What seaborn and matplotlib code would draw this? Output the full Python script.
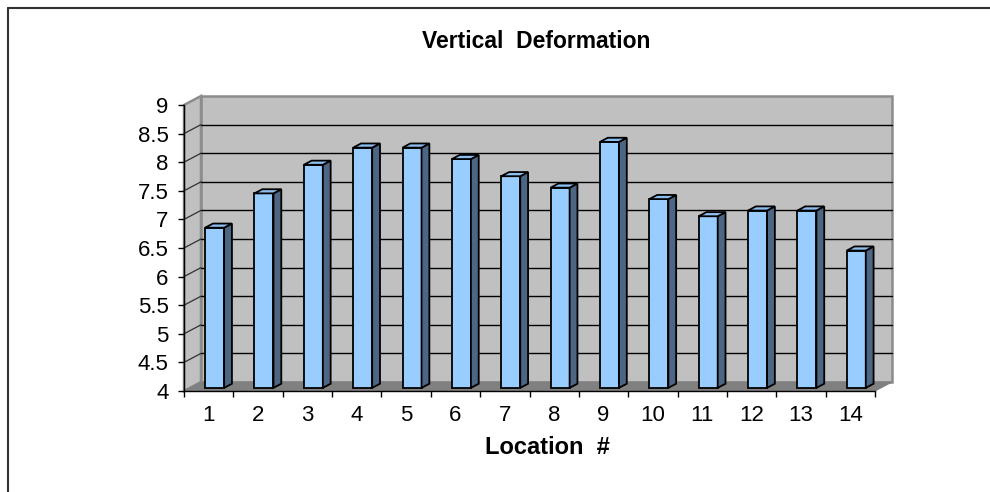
import numpy as np
import matplotlib
matplotlib.use("Agg")
import matplotlib.pyplot as plt
from matplotlib.patches import Polygon, Rectangle
from matplotlib.lines import Line2D
from matplotlib.ticker import FuncFormatter, FixedLocator
import seaborn as sns

# data
locations = ["1", "2", "3", "4", "5", "6", "7", "8", "9", "10", "11", "12", "13", "14"]
deformation = [6.8, 7.4, 7.9, 8.2, 8.2, 8.0, 7.7, 7.5, 8.3, 7.3, 7.0, 7.1, 7.1, 6.4]
y_ticks = [4, 4.5, 5, 5.5, 6, 6.5, 7, 7.5, 8, 8.5, 9]

sns.set_style("white")
plt.rcParams['font.family'] = ['Liberation Sans', 'DejaVu Sans']

W, H = 990, 492
fig = plt.figure(figsize=(W / 100, H / 100), dpi=100)
ax = fig.add_axes([184 / W, 101 / H, 691 / W, 286 / H])
ax.set_facecolor('none')

ymin, ymax = y_ticks[0], y_ticks[-1]
n = len(locations)
xl, xr = -0.5, n - 0.5

# depth of the fake 3d box (in data units)
dx, dy = 0.344, 0.157
f_front, f_depth = 0.35, 0.46

sns.barplot(x=locations, y=deformation, width=0.385, color='#99CCFF',
            saturation=1, edgecolor='black', linewidth=1.3, ax=ax, zorder=3)

# lift bars onto the floor and add side / top faces
for p in list(ax.patches):
    h = p.get_height()
    p.set_x(p.get_x() + f_front * dx)
    p.set_y(ymin + f_front * dy)
    p.set_height(h - ymin)
    x0 = p.get_x()
    x1 = x0 + p.get_width()
    y0 = p.get_y()
    top = y0 + p.get_height()
    bx, by = f_depth * dx, f_depth * dy
    ax.add_patch(Polygon([(x1, y0), (x1 + bx, y0 + by), (x1 + bx, top + by), (x1, top)],
                         closed=True, facecolor='#4D6684', edgecolor='black',
                         linewidth=1.3, zorder=3))
    ax.add_patch(Polygon([(x0, top), (x0 + bx, top + by), (x1 + bx, top + by), (x1, top)],
                         closed=True, facecolor='#8DBEF0', edgecolor='black',
                         linewidth=1.3, zorder=3))

# walls and floor
ax.add_patch(Rectangle((xl + dx, ymin + dy), xr - xl, ymax - ymin, facecolor='#C0C0C0',
                       edgecolor='#8C8C8C', linewidth=1.8, zorder=0.5, clip_on=False))
ax.add_patch(Polygon([(xl, ymin), (xl + dx, ymin + dy), (xl + dx, ymax + dy), (xl, ymax)],
                     closed=True, facecolor='#C0C0C0', edgecolor='#8C8C8C',
                     linewidth=1.8, zorder=0.5, clip_on=False))
for v in y_ticks[1:-1]:
    ax.plot([xl + dx, xr + dx], [v + dy, v + dy], color='black', lw=1, zorder=0.6, clip_on=False)
    ax.plot([xl, xl + dx], [v, v + dy], color='#303030', lw=0.9, zorder=0.6, clip_on=False)
ax.add_patch(Polygon([(xl, ymin), (xr, ymin), (xr + dx, ymin + dy), (xl + dx, ymin + dy)],
                     closed=True, facecolor='#808080', edgecolor='#808080',
                     linewidth=0.8, zorder=0.7, clip_on=False))

ax.set_xlim(xl, xr)
ax.set_ylim(ymin, ymax)
sns.despine(ax=ax, top=True, right=True)
for s in ['left', 'bottom']:
    ax.spines[s].set_color('black')
    ax.spines[s].set_linewidth(1.0)
    ax.spines[s].set_zorder(4)

ax.set_yticks(y_ticks)
ax.yaxis.set_major_formatter(FuncFormatter(lambda v, pos: f"{v:g}"))
ax.tick_params(axis='y', which='major', left=True, length=4, width=1, color='black',
               pad=7, labelsize=16, labelcolor='black')
ax.xaxis.set_minor_locator(FixedLocator(np.arange(xl, xr + 0.01, 1.0)))
ax.tick_params(axis='x', which='major', bottom=False, length=0, pad=10,
               labelsize=16, labelcolor='black')
ax.tick_params(axis='x', which='minor', bottom=True, length=4, width=1, color='black')
ax.grid(False)

ax.set_xlabel("Location  #", fontsize=17, fontweight='bold', color='black')
ax.xaxis.set_label_coords((547 - 184) / 691, -(447 - 391) / 286)
ax.xaxis.label.set_va('center')
ax.set_title("Vertical  Deformation", fontsize=16.5, fontweight='bold', color='black',
             x=(536 - 184) / 691, y=(391 - 42) / 286, va='center', pad=0)

# outer chart border (top and left only visible)
fig.add_artist(Line2D([8 / W, 1], [1 - 8 / H, 1 - 8 / H], transform=fig.transFigure,
                      color='#333333', lw=1.5))
fig.add_artist(Line2D([8 / W, 8 / W], [0, 1 - 8 / H], transform=fig.transFigure,
                      color='#333333', lw=1.5))

fig.savefig("out.png", dpi=100, facecolor='white')
